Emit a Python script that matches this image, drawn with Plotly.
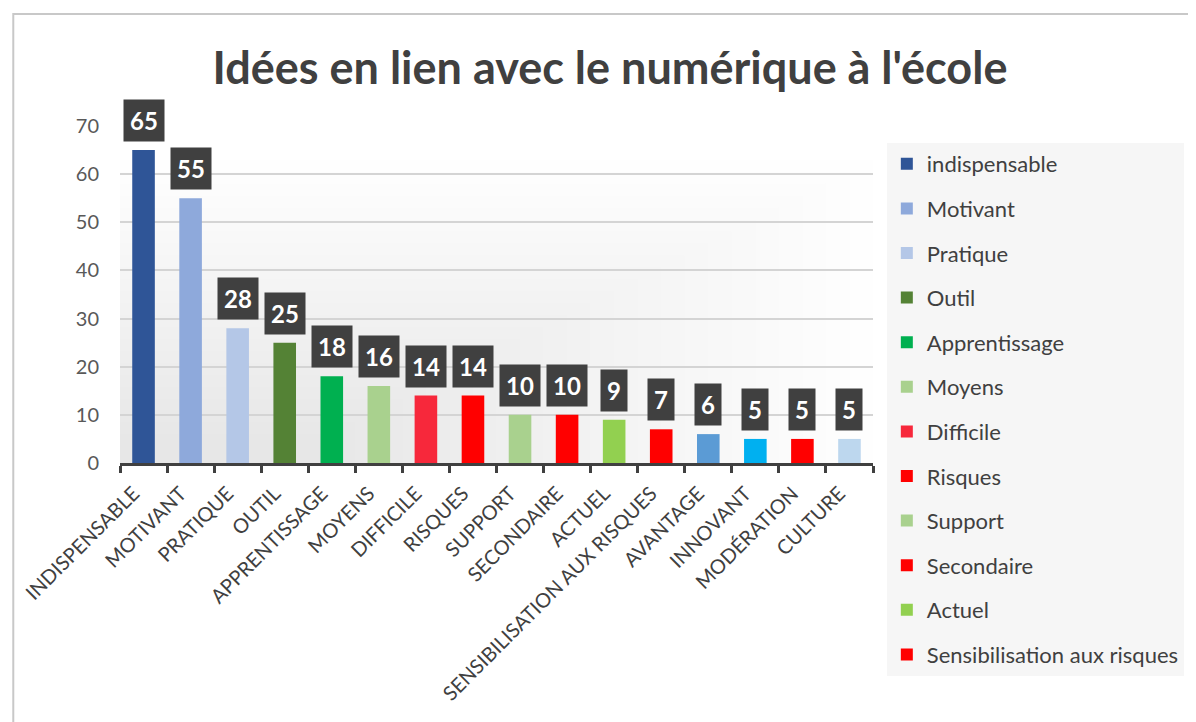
import plotly.graph_objects as go

categories = ["INDISPENSABLE", "MOTIVANT", "PRATIQUE", "OUTIL", "APPRENTISSAGE", "MOYENS",
              "DIFFICILE", "RISQUES", "SUPPORT", "SECONDAIRE", "ACTUEL",
              "SENSIBILISATION AUX RISQUES", "AVANTAGE", "INNOVANT", "MODÉRATION", "CULTURE"]
legend_names = ["indispensable", "Motivant", "Pratique", "Outil", "Apprentissage", "Moyens",
                "Difficile", "Risques", "Support", "Secondaire", "Actuel",
                "Sensibilisation aux risques", "Avantage", "Innovant", "Modération", "Culture"]
values = [65, 55, 28, 25, 18, 16, 14, 14, 10, 10, 9, 7, 6, 5, 5, 5]
colors = ["#2F5597", "#8EA9DB", "#B4C7E7", "#548235", "#00B050", "#A9D18E",
          "#F7283B", "#FF0000", "#A9D18E", "#FF0000", "#92D050", "#FF0000",
          "#5B9BD5", "#00B0F0", "#FF0000", "#BDD7EE"]
y_ticks = [0, 10, 20, 30, 40, 50, 60, 70]
title_text = "Idées en lien avec le numérique à l'école"
legend_shown = 12

FONT = "Lato, 'Open Sans', sans-serif"

fig = go.Figure()
for i, (cat, name, val, col) in enumerate(zip(categories, legend_names, values, colors)):
    fig.add_trace(go.Bar(
        x=[cat], y=[val], name=name, marker_color=col, marker_line_width=0,
        width=0.48, showlegend=i < legend_shown, legendgroup=f"g{i}",
        hovertemplate="%{x}: %{y}<extra></extra>"))
    fig.add_annotation(
        x=cat, y=val, text=f"<b>{val}</b>", showarrow=False, yanchor="bottom",
        yshift=8, bgcolor="#404040", borderpad=6,
        font=dict(family=FONT, size=24, color="white"))

# soft grey fade in plot background (bottom-left darker)
N = 24
for k in range(N):
    fig.add_shape(type="rect", xref="x domain", yref="y domain",
                  x0=0, x1=1 - k * (0.75 / N), y0=0, y1=0.9 - k * (0.85 / N),
                  fillcolor="#9a9a9a", opacity=0.012, line_width=0, layer="below")

# outer chart border (left and top visible)
fig.add_shape(type="rect", xref="paper", yref="paper",
              x0=(12 - 120) / 762, x1=1.6, y0=-1.2, y1=(463 - 14) / 337,
              line=dict(color="#C8C8C8", width=2), fillcolor="rgba(0,0,0,0)", layer="below")

W, H = 1188, 714
fig.update_layout(
    width=W, height=H,
    margin=dict(l=112, r=314, t=118, b=259),
    paper_bgcolor="white", plot_bgcolor="rgba(0,0,0,0)",
    barmode="relative",
    title=dict(text=f"<b>{title_text}</b>", x=602 / W, xanchor="center",
               y=1 - 60 / H, yanchor="middle",
               font=dict(family=FONT, size=45, color="#404040")),
    font=dict(family=FONT, color="#404040"),
    legend=dict(x=(896 - 120) / 762, xanchor="left", y=(463 - 143) / 337, yanchor="top",
                bgcolor="#F6F6F6", font=dict(family=FONT, size=22, color="#404040"),
                tracegroupgap=13, itemwidth=30, traceorder="grouped",
                maxheight=620),
    xaxis=dict(showgrid=False, tickangle=-45, tickfont=dict(family=FONT, size=20, color="#404040"),
               showline=True, linecolor="#404040", linewidth=3,
               ticks="outside", ticklen=7, tickwidth=3, tickcolor="#404040",
               tickson="boundaries", categoryorder="array", categoryarray=categories,
               ticklabelshift=-10, ticklabelstandoff=8),
    yaxis=dict(range=[0, 70], tickvals=y_ticks, showgrid=True, gridcolor="#D4D4D4", gridwidth=2,
               zeroline=False, tickfont=dict(family=FONT, size=20, color="#595959"),
               ticklabelstandoff=20, fixedrange=True),
)

fig.write_html("out.html")
